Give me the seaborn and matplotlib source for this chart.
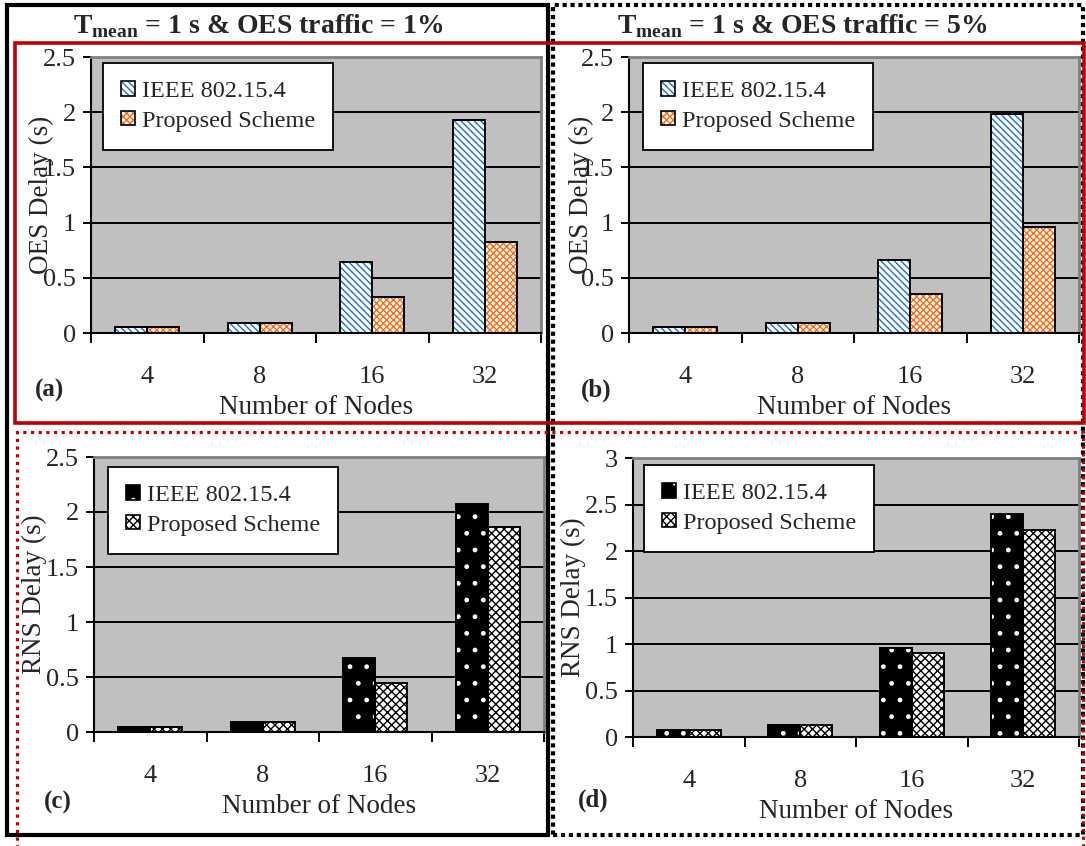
import matplotlib
matplotlib.use("Agg")
import matplotlib.pyplot as plt
import matplotlib.patches as mpatches
import numpy as np
import pandas as pd
import seaborn as sns

# ---------------- data ----------------
nodes = ["4", "8", "16", "32"]
schemes = ["IEEE 802.15.4", "Proposed Scheme"]

oes_1_ieee = [0.05, 0.09, 0.64, 1.93]
oes_1_prop = [0.05, 0.09, 0.33, 0.82]
oes_5_ieee = [0.05, 0.09, 0.66, 1.98]
oes_5_prop = [0.05, 0.09, 0.35, 0.96]
rns_1_ieee = [0.05, 0.09, 0.67, 2.07]
rns_1_prop = [0.05, 0.09, 0.45, 1.86]
rns_5_ieee = [0.07, 0.13, 0.96, 2.40]
rns_5_prop = [0.07, 0.13, 0.90, 2.23]

titles = ["T$_{\\mathbf{mean}}$ = 1 s & OES traffic = 1%",
          "T$_{\\mathbf{mean}}$ = 1 s & OES traffic = 5%"]
panel_tags = ["(a)", "(b)", "(c)", "(d)"]

# ---------------- style ----------------
sns.set_style("ticks")
plt.rcParams["font.family"] = ["Liberation Serif", "DejaVu Serif"]
plt.rcParams["mathtext.fontset"] = "custom"
plt.rcParams["mathtext.rm"] = "Liberation Serif:bold"
plt.rcParams["mathtext.bf"] = "Liberation Serif:bold"
plt.rcParams["hatch.linewidth"] = 1.0

W, H = 1086, 846
fig = plt.figure(figsize=(W / 100, H / 100), dpi=100)


def px_axes(l, r, t, b):
    return fig.add_axes([l / W, 1 - b / H, (r - l) / W, (b - t) / H])


def make_df(a, b):
    return pd.DataFrame({
        "Nodes": nodes * 2,
        "Scheme": [schemes[0]] * len(nodes) + [schemes[1]] * len(nodes),
        "Delay": list(a) + list(b),
    })


top_styles = [dict(face="white", hatch="\\\\\\\\\\", hc="#1A6FD6"),
              dict(face="white", hatch="xxxxx", hc="#FF6A13")]
bot_styles = [dict(face="black", hatch=".", hc="white"),
              dict(face="white", hatch="xxxx", hc="black")]

panels = [
    dict(rect=(91, 541, 57, 333), data=(oes_1_ieee, oes_1_prop), ymax=2.5,
         ylabel="OES Delay (s)", styles=top_styles, leg=(103, 63),
         ylab_x=54, tag=(50, 390)),
    dict(rect=(629, 1079, 57, 333), data=(oes_5_ieee, oes_5_prop), ymax=2.5,
         ylabel="OES Delay (s)", styles=top_styles, leg=(643, 63),
         ylab_x=594, tag=(596, 390)),
    dict(rect=(94, 544, 457, 732), data=(rns_1_ieee, rns_1_prop), ymax=2.5,
         ylabel="RNS Delay (s)", styles=bot_styles, leg=(108, 467),
         ylab_x=47, tag=(58, 802)),
    dict(rect=(633, 1079, 458, 737), data=(rns_5_ieee, rns_5_prop), ymax=3.0,
         ylabel="RNS Delay (s)", styles=bot_styles, leg=(644, 465),
         ylab_x=586, tag=(593, 800)),
]

for i, p in enumerate(panels):
    l, r, t, b = p["rect"]
    ax = px_axes(l, r, t, b)
    df = make_df(*p["data"])
    sns.barplot(data=df, x="Nodes", y="Delay", hue="Scheme", order=nodes,
                hue_order=schemes, width=0.57, errorbar=None, saturation=1,
                legend=False, ax=ax)
    for cont, st in zip(ax.containers, p["styles"]):
        for bar in cont:
            bar.set_facecolor(st["face"])
            bar.set_hatch(st["hatch"])
            bar.set_edgecolor(st["hc"])
            bar.set_linewidth(0)
            ax.add_patch(mpatches.Rectangle(bar.get_xy(), bar.get_width(),
                                            bar.get_height(), fill=False,
                                            edgecolor="black", lw=1.4,
                                            zorder=3))
    ax.set_facecolor("#C0C0C0")
    ax.set_xlim(-0.5, len(nodes) - 0.5)
    ax.set_ylim(0, p["ymax"])
    yt = np.arange(0, p["ymax"] + 0.01, 0.5)
    ax.set_yticks(yt)
    ax.set_yticklabels([("%g" % v) for v in yt])
    ax.yaxis.grid(True, color="black", lw=1.4)
    ax.set_axisbelow(True)

    centers = np.arange(len(nodes))
    ax.set_xticks(np.append(centers - 0.5, len(nodes) - 0.5))
    ax.set_xticklabels([])
    ax.set_xticks(centers, minor=True)
    ax.set_xticklabels(nodes, minor=True)
    ax.tick_params(axis="x", which="major", length=7, width=1.4,
                   direction="out", color="black")
    ax.tick_params(axis="x", which="minor", length=0, pad=24, labelsize=19)
    ax.tick_params(axis="y", length=6, width=1.4, direction="out",
                   color="black", pad=5, labelsize=19)
    for s in ["left", "bottom"]:
        ax.spines[s].set_color("black")
        ax.spines[s].set_linewidth(1.5)
    for s in ["top", "right"]:
        ax.spines[s].set_color("#808080")
        ax.spines[s].set_linewidth(2)

    ax.set_xlabel("Number of Nodes", fontsize=19.5, labelpad=5)
    ax.set_ylabel(p["ylabel"], fontsize=19.5)
    ax.yaxis.set_label_coords((p["ylab_x"] - l) / (r - l), 0.5)

    # legend
    handles = []
    for st in p["styles"]:
        h1 = mpatches.Patch(facecolor=st["face"], hatch=st["hatch"],
                            edgecolor=st["hc"], lw=0)
        h2 = mpatches.Patch(facecolor="none", edgecolor="black", lw=1.2)
        handles.append((h1, h2))
    lx, ly = p["leg"]
    leg = ax.legend(handles, schemes, loc="upper left",
                    bbox_to_anchor=((lx - l) / (r - l), 1 - (ly - t) / (b - t)),
                    borderaxespad=0, fontsize=17.5, frameon=True,
                    fancybox=False, framealpha=1, edgecolor="black",
                    handlelength=0.55, handleheight=0.55, handletextpad=0.3,
                    borderpad=0.75, labelspacing=0.35)
    leg.get_frame().set_linewidth(1.3)
    leg.set_zorder(5)

    tx, ty = p["tag"]
    fig.text(tx / W, 1 - ty / H, panel_tags[i], ha="center", va="center",
             fontsize=18, fontweight="bold")

# column titles
fig.text(258 / W, 1 - 26 / H, titles[0], ha="center", va="center",
         fontsize=20, fontweight="bold")
fig.text(802 / W, 1 - 26 / H, titles[1], ha="center", va="center",
         fontsize=20, fontweight="bold")


def frame(x0, y0, x1, y1, **kw):
    fig.add_artist(mpatches.Rectangle((x0 / W, 1 - y1 / H), (x1 - x0) / W,
                                      (y1 - y0) / H, transform=fig.transFigure,
                                      fill=False, **kw))


frame(7, 5, 548, 835, edgecolor="black", lw=3, zorder=10)
frame(553, 5, 1083, 835, edgecolor="black", lw=3, ls=(0, (1, 0.9)),
      zorder=10)
frame(15, 43, 1084, 423, edgecolor="#C00000", lw=2.6, zorder=11)
frame(17, 432, 1083, 850, edgecolor="#C00000", lw=2.3, ls=(0, (1, 1.4)),
      zorder=11)

fig.savefig("out.png", dpi=100)
